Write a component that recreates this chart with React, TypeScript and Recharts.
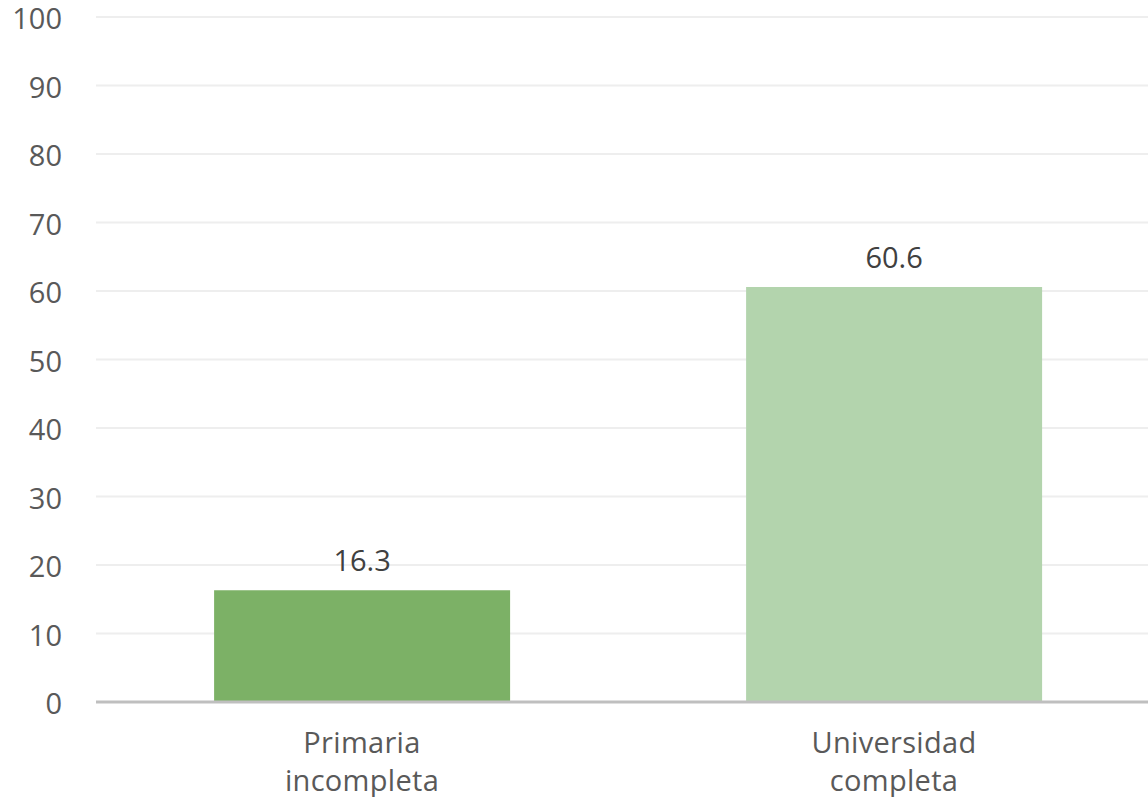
import React from "react";
import { BarChart, Bar, XAxis, YAxis, CartesianGrid, LabelList, Cell } from "recharts";

// Education level categories and their values
const categories: string[] = ["Primaria incompleta", "Universidad completa"];
const values: number[] = [16.3, 60.6];
const barColors: string[] = ["#7cb166", "#b3d4ad"];
const yTicks: number[] = [0, 10, 20, 30, 40, 50, 60, 70, 80, 90, 100];

const data = categories.map((name, i) => ({ name, value: values[i] }));

const FONT = "'Open Sans', 'Noto Sans', sans-serif";

// Category label split into two centred lines
const CategoryTick = (props: any) => {
  const { x, y, payload } = props;
  const words: string[] = String(payload.value).split(" ");
  return (
    <g transform={`translate(${x},${y})`}>
      {words.map((w, i) => (
        <text
          key={i}
          x={0}
          y={43 + i * 38}
          textAnchor="middle"
          fill="#595959"
          fontSize={29}
          fontFamily={FONT}
          letterSpacing={0.3}
        >
          {w}
        </text>
      ))}
    </g>
  );
};

// Value tick on the left axis, right-aligned
const ValueTick = (props: any) => {
  const { x, y, payload } = props;
  return (
    <text
      x={x}
      y={y + 12}
      textAnchor="end"
      fill="#595959"
      fontSize={29}
      fontFamily={FONT}
    >
      {payload.value}
    </text>
  );
};

export default function App() {
  return (
    <div
      style={{
        position: "absolute",
        left: 0,
        top: 0,
        width: 1148,
        height: 797,
        overflow: "hidden",
        background: "#ffffff",
      }}
    >
      <BarChart
        width={1160}
        height={797}
        data={data}
        margin={{ top: 17, right: 0, bottom: 0, left: 0 }}
        barCategoryGap="22.2%"
      >
        <CartesianGrid vertical={false} stroke="#eeeeee" strokeWidth={2} />
        <XAxis
          dataKey="name"
          height={95}
          tickLine={false}
          axisLine={{ stroke: "#bfbfbf", strokeWidth: 3 }}
          tick={<CategoryTick />}
          interval={0}
        />
        <YAxis
          width={96}
          domain={[0, 100]}
          ticks={yTicks}
          tickLine={false}
          axisLine={false}
          tickSize={0}
          tickMargin={34}
          tick={<ValueTick />}
          interval={0}
        />
        <Bar dataKey="value" isAnimationActive={false}>
          {data.map((_, i) => (
            <Cell key={i} fill={barColors[i]} />
          ))}
          <LabelList
            dataKey="value"
            position="top"
            offset={19}
            fill="#404040"
            fontSize={29}
            fontFamily={FONT}
            formatter={(v: any) => Number(v).toFixed(1)}
          />
        </Bar>
      </BarChart>
    </div>
  );
}
